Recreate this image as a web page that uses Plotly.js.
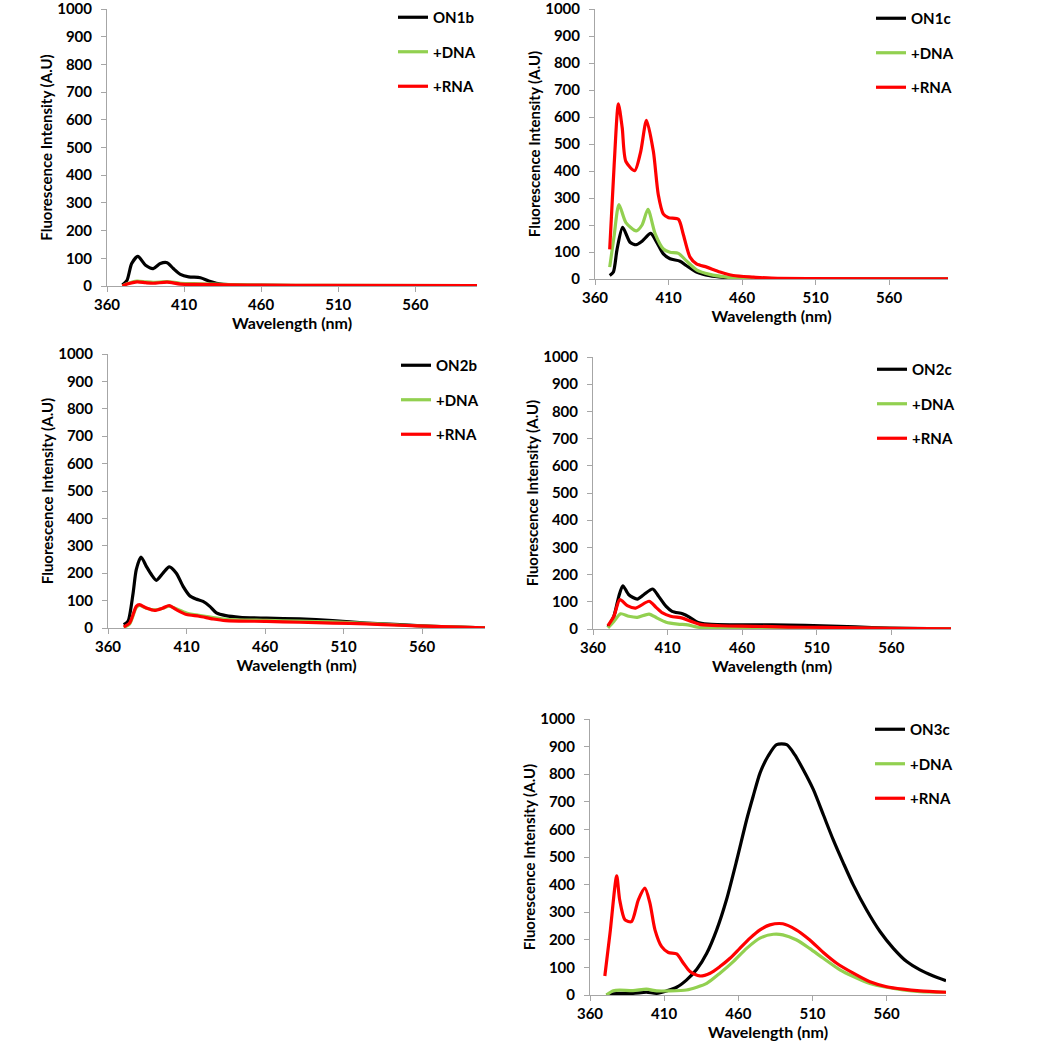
<!DOCTYPE html>
<html>
<head>
<meta charset="utf-8">
<script src="https://cdn.plot.ly/plotly-3.0.1.min.js"></script>
<style>html,body{margin:0;padding:0;background:#fff;}#chart{width:1050px;height:1043px;}</style>
</head>
<body>
<div id="chart"></div>
<script>
// ---- Data (wavelength in nm, intensity in A.U) ----
// Panel ON1b
const on1b_wl   = [370,373,376,380,385,390,394.6,399,403,407.6,413,420.6,426,431,442,460,500,550,600];
const on1b_int  = [4,21,81,107,75,63,81,84,63,42,33,30,18,10,4,2,1,1,0];
const on1b_dna_wl  = [370,373,379.5,385,390,399,407.6,420,440,460,500,600];
const on1b_dna_int = [0,8,18,15,13,16,10,8,5,3,2,1];
const on1b_rna_wl  = [370,373,379.5,385,390,399,407.6,420,440,460,500,600];
const on1b_rna_int = [0,7,15,12,10,14,7,6,4,3,2,1];

// Panel ON1c
const on1c_wl   = [370,372.5,375,378.8,383.8,388,392,397.9,402,406.5,411,417.8,422,429,438,449.6,460,480,600];
const on1c_int  = [13,26,110,191,136,127,140,169,136,93,75,66,50,26,12,5,2,1,0];
const on1c_dna_wl  = [370,373,376.3,381,388,392,396,401,406.5,411,416.7,422,429,438,449.6,460,480,600];
const on1c_dna_int = [44,160,276,209,178,200,258,166,111,99,95,68,34,17,7,3,1,0];
const on1c_rna_wl  = [370,373,375.9,378.5,381,387,391,395,399.7,403,406.5,410,416.7,420,424.6,429,436,445,454,467.7,480,600];
const on1c_rna_int = [110,420,649,560,435,401,470,588,472,313,240,227,221,166,81,56,44,26,13,7,3,1];

// Panel ON2b
const on2b_wl   = [370,372.7,376,378,381,384.4,387.6,390.8,395,399,403.5,407.8,412,416,420.5,424.8,429,435,444,461,482,503,524.5,545.8,567,600];
const on2b_int  = [12,24,128,213,259,225,195,174,200,223,200,152,118,106,97,79,55,45,39,36,33,27,18,12,6,1];
const on2b_dna_wl  = [370,373.8,378,380,384.4,389.7,395,399,403.5,410,418,427,435,461,482,503,524.5,545.8,567,600];
const on2b_dna_int = [2,15,75,82,72,66,72,80,70,55,46,38,32,28,25,22,17,11,6,1];
const on2b_rna_wl  = [370,373.8,378,380,384.4,389.7,395,399,403.5,410,418,427,435,461,482,503,524.5,545.8,567,600];
const on2b_rna_int = [4,18,79,85,73,64,73,82,67,49,43,33,27,24,21,18,15,10,6,1];

// Panel ON2c
const on2c_wl   = [370,374,377.3,380,384,389.7,394,400,404,409,413,420,424.6,430,437,457,480,502,525,547,570,600];
const on2c_int  = [7,47,120,159,126,110,126,147,120,83,65,56,44,25,18,15,15,13,10,5,2,1];
const on2c_dna_wl  = [370,374,378.5,384,389.7,397.6,403,409,416.8,423.5,430,460,500,550,600];
const on2c_dna_int = [4,28,56,47,43,55,40,25,18,15,7,5,4,2,1];
const on2c_rna_wl  = [370,374,378,383,388.6,397.6,402,406.6,412,420,425.8,432.5,446,468.6,491,513.6,536,558.6,600];
const on2c_rna_int = [12,47,108,86,77,102,81,59,47,40,28,16,12,10,7,6,4,2,1];

// Panel ON3c
const on3c_wl   = [371,375.7,380,389,398,405,411.7,418.4,425,432,438.7,445.4,452,459,465.6,470,474.6,480,485.8,492.6,498,503.8,510.6,517.3,524,530.8,537.5,546.5,555.5,564.5,573.5,582.5,591.5,600];
const on3c_int  = [0,4,6,6,10,6,15,28,54,93,151,236,345,490,635,720,804,865,907,907,871,816,744,653,562,478,399,308,230,169,121,91,69,52];
const on3c_dna_wl  = [371,375.7,380,389,398,405,414,425,432,438.7,447.6,456.6,465.6,474.6,483.6,490,499,508,517.3,528.5,537.5,548.7,560,571,582.5,600];
const on3c_dna_int = [0,15,18,16,21,15,15,18,28,42,79,121,169,206,220,218,200,169,133,91,67,42,28,18,12,10];
const on3c_rna_wl  = [370,373.5,378,380,383.6,388,392.6,397,400.4,403.8,408.3,412.8,418.4,423,427.4,434,441,447.6,454.4,461,467.9,474.6,481.3,490,499,508,517.3,526.3,537.5,548.7,560,571,582.5,600];
const on3c_rna_int = [69,224,432,345,272,266,345,387,333,236,175,154,149,115,85,69,79,103,133,169,206,236,254,258,236,200,154,115,79,48,30,21,15,10];

const panelNames = ["ON1b","ON1c","ON2b","ON2c","ON3c"];
const xTicks = [360,410,460,510,560];
const yTicks = [0,100,200,300,400,500,600,700,800,900,1000];
const xTitle = "Wavelength (nm)";
const yTitle = "Fluorescence Intensity (A.U)";
const seriesLabels = ["+DNA","+RNA"];

// ---- Layout geometry (pixels) ----
const W = 1050, H = 1043;
const boxes = [
  {x0:107, x1:477, y0:9,   y1:286},
  {x0:595, x1:948, y0:9,   y1:279},
  {x0:108, x1:485, y0:354, y1:628},
  {x0:593, x1:951, y0:357, y1:629},
  {x0:590, x1:946, y0:719, y1:995}
];
const legendPos = [
  {x:393, y:1}, {x:871, y:2}, {x:396, y:349}, {x:872, y:353}, {x:870, y:713}
];

const dataSets = [
  [on1b_wl,on1b_int,on1b_dna_wl,on1b_dna_int,on1b_rna_wl,on1b_rna_int],
  [on1c_wl,on1c_int,on1c_dna_wl,on1c_dna_int,on1c_rna_wl,on1c_rna_int],
  [on2b_wl,on2b_int,on2b_dna_wl,on2b_dna_int,on2b_rna_wl,on2b_rna_int],
  [on2c_wl,on2c_int,on2c_dna_wl,on2c_dna_int,on2c_rna_wl,on2c_rna_int],
  [on3c_wl,on3c_int,on3c_dna_wl,on3c_dna_int,on3c_rna_wl,on3c_rna_int]
];
const colors = ["#000000","#92D050","#FF0000"];
const FONT = {family:"Lato, 'Open Sans', sans-serif", size:15, color:"#000", weight:700};

const traces = [];
const layout = {
  width:W, height:H, margin:{l:0,r:0,t:0,b:0},
  paper_bgcolor:"#fff", plot_bgcolor:"rgba(0,0,0,0)",
  font:FONT, showlegend:true
};

dataSets.forEach((ds, i) => {
  const n = i + 1;
  const xa = "x" + (n === 1 ? "" : n), ya = "y" + (n === 1 ? "" : n);
  const lg = "legend" + (n === 1 ? "" : n);
  const names = [panelNames[i], seriesLabels[0], seriesLabels[1]];
  for (let k = 0; k < 3; k++) {
    traces.push({
      type:"scatter", mode:"lines",
      x: ds[2*k], y: ds[2*k+1],
      name: names[k], xaxis: xa, yaxis: ya, legend: lg,
      legendgroup: "p" + n + "s" + k,
      line:{color:colors[k], width:3.2, shape:"spline", smoothing:0.7}
    });
  }
  const b = boxes[i];
  layout["xaxis" + (n === 1 ? "" : n)] = {
    domain:[b.x0/W, b.x1/W], anchor: ya,
    range:[360,600], tickvals:xTicks, ticktext:xTicks.map(String),
    showline:true, linecolor:"#a6a6a6", linewidth:1,
    ticks:"outside", ticklen:5, tickcolor:"#a6a6a6",
    showgrid:false, zeroline:false, tickfont:FONT, ticklabeloverflow:"allow",
    title:{text:xTitle, font:{...FONT, size:16}, standoff:0}
  };
  layout["yaxis" + (n === 1 ? "" : n)] = {
    domain:[1 - b.y1/H, 1 - b.y0/H], anchor: xa,
    range:[0,1000], tickvals:yTicks, ticktext:yTicks.map(String),
    showline:true, linecolor:"#a6a6a6", linewidth:1,
    ticks:"outside", ticklen:5, tickcolor:"#a6a6a6",
    showgrid:false, zeroline:false, tickfont:FONT, ticklabeloverflow:"allow",
    ticklabelstandoff:6,
    title:{text:yTitle, font:{...FONT, size:15}, standoff:0}
  };
  const lp = legendPos[i];
  layout[lg] = {
    x: lp.x/W, y: 1 - lp.y/H, xanchor:"left", yanchor:"top",
    bgcolor:"rgba(0,0,0,0)", borderwidth:0,
    font:FONT, tracegroupgap:12, traceorder:"grouped",
    itemwidth:30
  };
});

Plotly.newPlot("chart", traces, layout, {staticPlot:true, displayModeBar:false});
</script>
</body>
</html>
